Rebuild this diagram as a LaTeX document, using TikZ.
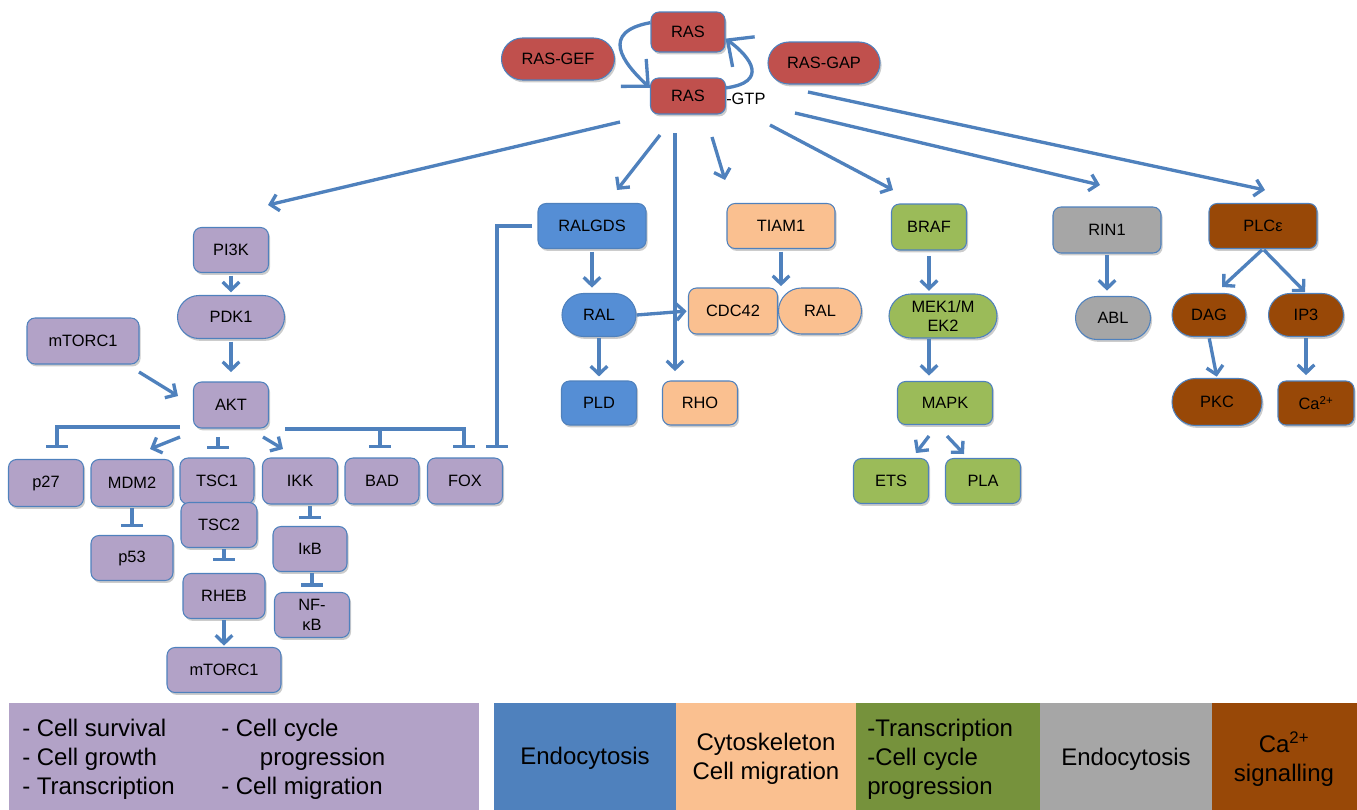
\documentclass[tikz,border=0pt]{standalone}
\usepackage{fontspec}
\setmainfont{Liberation Sans}
\usetikzlibrary{arrows.meta,shapes.misc,shadows,calc}
\definecolor{cred}{RGB}{192,80,77}
\definecolor{cpur}{RGB}{178,162,199}
\definecolor{cblue}{RGB}{85,142,213}
\definecolor{corg}{RGB}{250,192,144}
\definecolor{cgrn}{RGB}{155,187,89}
\definecolor{cgry}{RGB}{166,166,166}
\definecolor{cbrn}{RGB}{152,72,7}
\definecolor{cline}{RGB}{79,129,189}
\definecolor{lblue}{RGB}{79,129,189}
\definecolor{lgrn}{RGB}{118,146,60}
\begin{document}
\begin{tikzpicture}[x=0.75pt,y=0.75pt,
  sz/.style 2 args={minimum width=#1*0.75pt,minimum height=#2*0.75pt},
  base/.style={draw=cline,line width=0.8pt,inner sep=0pt,align=center,
    font=\fontsize{12.3}{15}\selectfont,text=black,
    drop shadow={shadow xshift=1.2pt,shadow yshift=-1.8pt,opacity=0.2,fill=black}},
  bx/.style={base,rectangle,rounded corners=6pt},
  pill/.style={base,rounded rectangle},
  ar/.style={draw=cline,line width=2.5pt,-{Straight Barb[length=6pt,width=12.5pt]}},
  inh/.style={draw=cline,line width=2.5pt,-{Bar[width=16pt]}},
  bigar/.style={draw=cline,line width=2.5pt,-{Straight Barb[length=15pt,width=28pt]}},
  legbox/.style={inner sep=0pt,anchor=north west},
  legtxt/.style={font=\fontsize{18}{21.75}\selectfont,inner sep=0pt,text=black}
]
\path[use as bounding box] (0,0) rectangle (1357,-810);

% ---------- RAS cycle ----------
\node[bx,sz={74}{40},fill=cred] (ras1) at (688,-32) {RAS};
\node[pill,sz={113}{42},fill=cred] (rasgef) at (558,-59) {RAS-GEF};
\node[pill,sz={112}{42},fill=cred] (rasgap) at (824,-63) {RAS-GAP};
\node[bx,sz={75}{36},fill=cred] (ras2) at (688,-96) {RAS};
\node[inner sep=0pt,anchor=west,font=\fontsize{12.3}{15}\selectfont] (gtp) at (726,-99) {-GTP};

\draw[bigar] (ras1.166) .. controls (600,-32) and (622,-62) .. (ras2.168);
\draw[bigar] (ras2.12) .. controls (768,-82) and (752,-58) .. (ras1.-10);

% ---------- arrows from RAS-GTP ----------
\coordinate (g1s) at (620,-122); \coordinate (g1e) at (268,-205);
\coordinate (g2s) at (660,-135); \coordinate (g2e) at (617,-190);
\coordinate (g3s) at (675,-133);
\coordinate (g4s) at (712,-137); \coordinate (g4e) at (725,-180);
\coordinate (g5s) at (770,-125); \coordinate (g5e) at (893,-190);
\coordinate (g6s) at (795,-113); \coordinate (g6e) at (1100,-185);
\coordinate (g7s) at (808,-92);  \coordinate (g7e) at (1265,-190);

% ---------- PI3K branch ----------
\node[bx,sz={75}{45},fill=cpur] (pi3k) at (231,-250) {PI3K};
\node[pill,sz={107}{43},fill=cpur] (pdk1) at (231,-317) {PDK1};
\node[bx,sz={112}{46},fill=cpur] (mtorca) at (83,-341) {mTORC1};
\node[bx,sz={75}{46},fill=cpur] (akt) at (231,-405) {AKT};
\node[bx,sz={75}{47},fill=cpur] (p27) at (46,-483) {p27};
\node[bx,sz={82}{47},fill=cpur] (mdm2) at (132,-483) {MDM2};
\node[bx,sz={74}{46},fill=cpur] (tsc1) at (217,-481) {TSC1};
\node[bx,sz={75}{46},fill=cpur] (ikk) at (300,-481) {IKK};
\node[bx,sz={74}{46},fill=cpur] (bad) at (382,-481) {BAD};
\node[bx,sz={75}{46},fill=cpur] (fox) at (465,-481) {FOX};
\node[bx,sz={82}{45},fill=cpur] (p53) at (132,-558) {p53};
\node[bx,sz={76}{45},fill=cpur] (tsc2) at (219,-525) {TSC2};
\node[bx,sz={82}{45},fill=cpur] (rheb) at (224,-596) {RHEB};
\node[bx,sz={114}{45},fill=cpur] (mtorcb) at (224,-670) {mTORC1};
\node[bx,sz={74}{45},fill=cpur] (ikb) at (310,-549) {IκB};
\node[bx,sz={75}{45},fill=cpur,font=\fontsize{12.3}{14.5}\selectfont] (nfkb) at (312,-615) {NF-\\κB};

% ---------- RALGDS / TIAM1 ----------
\node[bx,sz={108}{45},fill=cblue] (ralgds) at (592,-226) {RALGDS};
\node[pill,sz={74}{43},fill=cblue] (ral1) at (599,-315) {RAL};
\node[bx,sz={75}{44},fill=cblue] (pld) at (599,-403) {PLD};
\node[bx,sz={75}{44},fill=corg] (rho) at (700,-403) {RHO};
\node[bx,sz={108}{45},fill=corg] (tiam1) at (781,-226) {TIAM1};
\node[bx,sz={89}{46},fill=corg] (cdc42) at (733,-311) {CDC42};
\node[pill,sz={83}{46},fill=corg] (ral2) at (820,-311) {RAL};

% ---------- BRAF ----------
\node[bx,sz={75}{46},fill=cgrn] (braf) at (929,-227) {BRAF};
\node[pill,sz={108}{44},fill=cgrn,font=\fontsize{12.3}{14}\selectfont] (mek) at (943,-316) {MEK1/M\\EK2};
\node[bx,sz={95}{43},fill=cgrn] (mapk) at (945,-403) {MAPK};
\node[bx,sz={75}{45},fill=cgrn] (ets) at (891,-481) {ETS};
\node[bx,sz={75}{45},fill=cgrn] (pla) at (983,-481) {PLA};

% ---------- RIN1 ----------
\node[bx,sz={108}{46},fill=cgry] (rin1) at (1107,-230) {RIN1};
\node[pill,sz={75}{43},fill=cgry] (abl) at (1113,-318) {ABL};

% ---------- PLC ----------
\node[bx,sz={108}{45},fill=cbrn] (plce) at (1263,-226) {PLCε};
\node[pill,sz={74}{43},fill=cbrn] (dag) at (1209,-315) {DAG};
\node[pill,sz={75}{43},fill=cbrn] (ip3) at (1306,-315) {IP3};
\node[pill,sz={90}{47},fill=cbrn] (pkc) at (1217,-402) {PKC};
\node[bx,sz={76}{44},fill=cbrn] (ca) at (1316,-403) {Ca\textsuperscript{2+}};

% ---------- connectors from RAS-GTP ----------
\draw[ar] (g1s) -- (g1e);
\draw[ar] (g2s) -- (g2e);
\draw[ar,shorten >=7pt] (g3s) -- (g3s |- rho.north);
\draw[ar] (g4s) -- (g4e);
\draw[ar] (g5s) -- (g5e);
\draw[ar] (g6s) -- (g6e);
\draw[ar] (g7s) -- (g7e);

% ---------- PI3K connectors ----------
\draw[ar,shorten <=2pt,shorten >=2pt] (pi3k.south) -- (pdk1.north);
\draw[ar,shorten <=2pt,shorten >=7pt] (pdk1.south) -- (akt.north);
\coordinate (m1s) at (139,-372); \coordinate (m1e) at (178,-396);
\draw[ar] (m1s) -- (m1e);
\coordinate (a0) at (180,-427); \coordinate (ap27) at (57,-448);
\draw[inh] (a0) -| (ap27);
\coordinate (a1s) at (180,-437); \coordinate (a1e) at (150,-449);
\draw[ar] (a1s) -- (a1e);
\coordinate (a2s) at (218,-437); \coordinate (a2e) at (218,-449);
\draw[inh] (a2s) -- (a2e);
\coordinate (a3s) at (263,-437); \coordinate (a3e) at (283,-449);
\draw[ar] (a3s) -- (a3e);
\coordinate (a4s) at (285,-429); \coordinate (afox) at (464,-448);
\draw[inh] (a4s) -| (afox);
\coordinate (a5s) at (380,-429); \coordinate (abad) at (380,-448);
\draw[inh] (a5s) -- (abad);
\coordinate (rfox) at (497,-448);
\draw[inh,shorten <=4pt] (ralgds.west) -| (rfox);
\draw[inh,shorten <=1pt,shorten >=6pt] (mdm2.south) -- (p53.north);
\draw[inh,shorten <=1pt,shorten >=9pt] (rheb.north |- tsc2.south) -- (rheb.north);
\draw[ar,shorten <=1pt,shorten >=1pt] (rheb.south) -- (mtorcb.north);
\draw[inh,shorten <=1pt,shorten >=5pt] (ikb.north |- ikk.south) -- (ikb.north);
\draw[inh,shorten <=1pt,shorten >=4pt] (nfkb.north |- ikb.south) -- (nfkb.north);

% ---------- RALGDS connectors ----------
\draw[ar,shorten <=2pt,shorten >=4pt] (ralgds.south) -- (ralgds.south |- ral1.north);
\draw[ar,shorten <=1pt,shorten >=3pt] (ral1.south) -- (pld.north);
\draw[ar,shorten >=1pt] (ral1.east) -- (cdc42.west);
\draw[ar,shorten <=2pt,shorten >=1pt] (tiam1.south) -- (tiam1.south |- cdc42.north);

% ---------- BRAF connectors ----------
\draw[ar,shorten <=4pt,shorten >=2pt] (braf.south) -- (braf.south |- mek.north);
\draw[ar,shorten >=4pt] (mek.south -| braf.south) -- (mapk.north -| braf.south);
\coordinate (e1s) at (929,-436); \coordinate (e1e) at (916,-453);
\coordinate (e2s) at (947,-436); \coordinate (e2e) at (964,-454);
\draw[ar] (e1s) -- (e1e);
\draw[ar] (e2s) -- (e2e);

% ---------- RIN1 / PLC connectors ----------
\draw[ar,shorten <=1pt,shorten >=4pt] (rin1.south) -- (rin1.south |- abl.north);
\coordinate (dagin) at (1222,-287);
\draw[ar,shorten <=1pt] (plce.south) -- (dagin);
\draw[ar,shorten <=1pt,shorten >=1pt] (plce.south) -- (ip3.north);
\draw[ar,shorten <=1pt,shorten >=1pt] (dag.south) -- (pkc.north);
\draw[ar,shorten <=1pt,shorten >=4pt] (ip3.south) -- (ip3.south |- ca.north);

% ---------- legend ----------
\node[legbox,fill=cpur,sz={470}{107}] (lg1) at (9,-703) {};
\node[legbox,fill=lblue,sz={182}{107}] (lg2) at (494,-703) {};
\node[legbox,fill=corg,sz={180}{107}] (lg3) at (676,-703) {};
\node[legbox,fill=lgrn,sz={184}{107}] (lg4) at (856,-703) {};
\node[legbox,fill=cgry,sz={172}{107}] (lg5) at (1040,-703) {};
\node[legbox,fill=cbrn,sz={145}{107}] (lg6) at (1212,-703) {};

\node[legtxt,anchor=west,align=left] (t1) at (22,-759) {- Cell survival\\- Cell growth\\- Transcription};
\node[legtxt,anchor=west,align=left] (t2) at (221,-759) {- Cell cycle\\\hspace*{29pt}progression\\- Cell migration};
\node[legtxt] (t3) at (585,-758) {Endocytosis};
\node[legtxt,align=center] (t4) at (766,-759) {Cytoskeleton\\Cell migration};
\node[legtxt,anchor=west,align=left] (t5) at (867,-759) {-Transcription\\-Cell cycle\\progression};
\node[legtxt] (t6) at (1126,-759) {Endocytosis};
\node[legtxt,align=center] (t7) at (1284,-759) {Ca\textsuperscript{2+}\\signalling};
\end{tikzpicture}
\end{document}
